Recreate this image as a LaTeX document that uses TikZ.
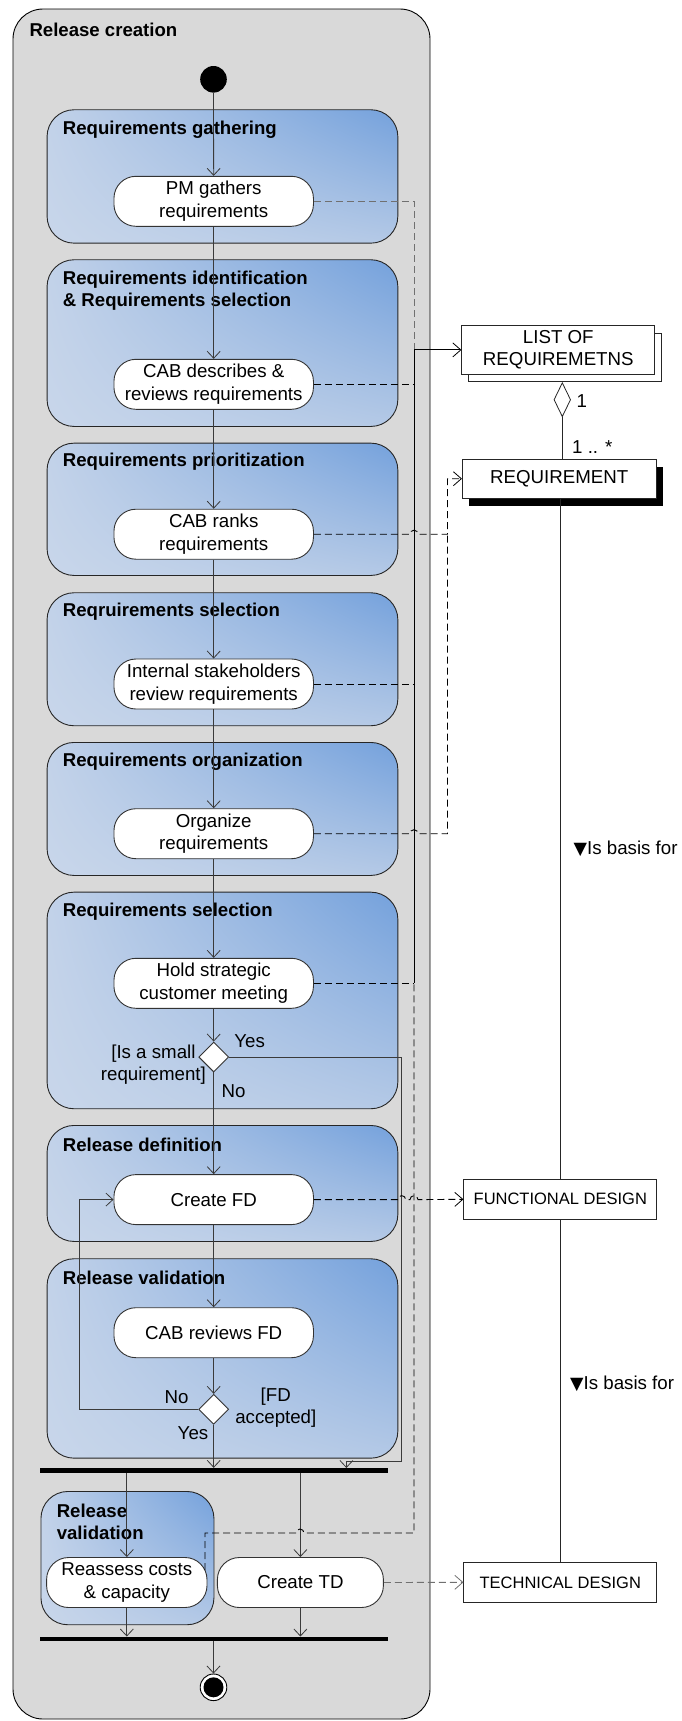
\documentclass[tikz,border=0pt]{standalone}
\usepackage{fontspec}
\setmainfont{Liberation Sans}
\newfontfamily\symbolfont{DejaVu Sans}
\usetikzlibrary{arrows.meta,shapes.geometric,shadings}

\definecolor{outerfill}{HTML}{D9D9D9}
\definecolor{lineclr}{HTML}{3A3A3A}
\definecolor{grpUL}{HTML}{C2D2E9}
\definecolor{grpUR}{HTML}{74A1DC}
\definecolor{grpLL}{HTML}{C8D6EA}
\definecolor{grpLR}{HTML}{B4C9E6}
\definecolor{dashgray}{HTML}{707070}

\tikzset{
  base/.style={font=\fontsize{18.7}{22.5}\selectfont},
  container/.style={draw=black, line width=0.9pt, rounded corners=30pt, fill=outerfill},
  group/.style={draw=black!85, line width=0.9pt, rounded corners=27pt,
    shading=bilinear interpolation, upper left=grpUL, upper right=grpUR,
    lower left=grpLL, lower right=grpLR, inner sep=0pt, anchor=north west},
  grouptitle/.style={font=\fontsize{18.6}{22.4}\selectfont\bfseries, anchor=west, align=left, inner sep=0pt},
  action/.style={base, draw=black!80, line width=0.9pt, fill=white, rounded corners=22pt,
    minimum width=199.5pt, minimum height=50pt, inner sep=0pt, align=center},
  decision/.style={diamond, draw=black!80, line width=0.9pt, fill=white, inner sep=0pt,
    minimum width=30pt, minimum height=30pt},
  syncbar/.style={fill=black, inner sep=0pt, minimum width=347.8pt, minimum height=4.5pt},
  objbox/.style={base, draw=black!85, line width=0.8pt, fill=white, inner sep=0pt,
    minimum width=193pt, align=center},
  label/.style={base, inner sep=0pt, align=center},
  flow/.style={draw=lineclr, line width=0.8pt, -{Straight Barb[length=7pt,width=13pt,line width=0.8pt]}},
  objflow/.style={draw=black, line width=0.9pt, dash pattern=on 7pt off 4pt},
  objarrow/.style={objflow, -{Straight Barb[length=8pt,width=14pt,line width=0.8pt]}},
  assoc/.style={draw=black!85, line width=0.8pt},
}

\begin{document}
\begin{tikzpicture}[x=1pt,y=-1pt]
\useasboundingbox (0,0) rectangle (681,1721);

% outer activity
\draw[container] (13,9) rectangle (430,1719);
\node[grouptitle, anchor=west] (maintitle) at (29.3,30) {Release creation};

% activity groups
\node[group, minimum width=350.8pt, minimum height=133.4pt] (g1) at (46.6,109.3) {};
\node[group, minimum width=350.8pt, minimum height=166.7pt] (g2) at (46.6,259.3) {};
\node[group, minimum width=350.8pt, minimum height=132.3pt] (g3) at (46.6,442.7) {};
\node[group, minimum width=350.8pt, minimum height=133pt]   (g4) at (46.6,592.3) {};
\node[group, minimum width=350.8pt, minimum height=133pt]   (g5) at (46.6,742) {};
\node[group, minimum width=350.8pt, minimum height=216.6pt] (g6) at (46.6,891.7) {};
\node[group, minimum width=350.8pt, minimum height=116pt]   (g7) at (46.6,1125) {};
\node[group, minimum width=350.8pt, minimum height=199.4pt] (g8) at (46.6,1258.3) {};
\node[group, minimum width=173pt,   minimum height=133.3pt] (g9) at (40.5,1491) {};

\node[grouptitle] (t1) at (62.7,130) {Requirements gathering};
\node[grouptitle] (t2) at (62.7,290.5) {Requirements identification\\\& Requirements selection};
\node[grouptitle] (t3) at (62.7,461.7) {Requirements prioritization};
\node[grouptitle] (t4) at (62.7,611.7) {Reqruirements selection};
\node[grouptitle] (t5) at (62.7,761.7) {Requirements organization};
\node[grouptitle] (t6) at (62.7,911.7) {Requirements selection};
\node[grouptitle] (t7) at (62.7,1145) {Release definition};
\node[grouptitle] (t8) at (62.7,1277.7) {Release validation};
\node[grouptitle] (t9) at (56.6,1522) {Release\\validation};

% control nodes
\node[circle, fill=black, minimum size=26.6pt, inner sep=0pt] (init) at (213.5,79.3) {};
\node[action] (pm)   at (213.7,201.3) {PM gathers\\requirements};
\node[action] (cabd) at (213.7,384.3) {CAB describes \&\\reviews requirements};
\node[action] (cabr) at (213.7,534.2) {CAB ranks\\requirements};
\node[action] (isr)  at (213.7,684) {Internal stakeholders\\review requirements};
\node[action] (org)  at (213.7,833.7) {Organize\\requirements};
\node[action] (hold) at (213.7,983.3) {Hold strategic\\customer meeting};
\node[decision] (d1) at (213.7,1057) {};
\node[action] (cfd)  at (213.7,1199.6) {Create FD};
\node[action] (cabf) at (213.7,1332.7) {CAB reviews FD};
\node[decision] (d2) at (213.7,1409.3) {};
\node[syncbar] (fork) at (213.9,1470.3) {};
\node[action, minimum width=160.4pt] (ra) at (126.8,1582.5) {Reassess costs\\\& capacity};
\node[action, minimum width=166pt]   (ctd) at (300.4,1582.5) {Create TD};
\node[syncbar] (join) at (213.9,1639) {};
\node[circle, draw=black, line width=0.9pt, fill=white, minimum size=26.6pt, inner sep=0pt] (final) at (213.5,1687.3) {};
\fill[black] (final.center) circle (10pt);

% guard and branch labels
\node[label] (yes1) at (249.7,1041) {Yes};
\node[label] (guard1) at (153.4,1064.5) {[Is a small\\requirement]};
\node[label] (no1) at (233.5,1090.7) {No};
\node[label] (no2) at (176.5,1396.7) {No};
\node[label] (guard2) at (275.8,1407.5) {[FD\\accepted]};
\node[label] (yes2) at (193,1433.3) {Yes};

% control flow
\draw[flow] (init) -- (pm);
\draw[flow] (pm) -- (cabd);
\draw[flow] (cabd) -- (cabr);
\draw[flow] (cabr) -- (isr);
\draw[flow] (isr) -- (org);
\draw[flow] (org) -- (hold);
\draw[flow] (hold) -- (d1);
\draw[flow] (d1) -- (cfd);
\draw[flow] (cfd) -- (cabf);
\draw[flow] (cabf) -- (d2);
\draw[flow] (d2.south) -- (d2.south |- fork.north);
\coordinate (yesdrop) at (401.7,1461);
\coordinate (yesin) at (346.4,1468);
\draw[flow] (d1.east) -| (yesdrop) -| (yesin);
\coordinate (noleft) at (79.7,1409.3);
\draw[flow] (d2.west) -- (noleft) |- (cfd.west);
\draw[flow] (ra.north |- fork.south) -- (ra.north);
\draw[flow] (ctd.north |- fork.south) -- (ctd.north);
\draw[flow] (ra.south) -- (ra.south |- join.north);
\draw[flow] (ctd.south) -- (ctd.south |- join.north);
\draw[flow] (join.south -| final.north) -- (final.north);

% object nodes
\node[objbox, minimum height=48.3pt] (listback) at (565.3,357.6) {};
\node[objbox, minimum height=48.3pt] (list) at (558.3,349.9) {LIST OF\\REQUIREMETNS};
\fill[black] (469.3,466.7) rectangle (662.7,506);
\node[objbox, minimum height=39.3pt, minimum width=193.7pt] (req) at (559.2,478.7) {REQUIREMENT};
\node[objbox, minimum height=40pt, font=\fontsize{16.5}{20}\selectfont] (fd) at (560.3,1199.3) {FUNCTIONAL DESIGN};
\node[objbox, minimum height=40pt, font=\fontsize{16.5}{20}\selectfont] (td) at (560.3,1582.3) {TECHNICAL DESIGN};

% associations between object nodes
\node[diamond, draw=black!85, line width=0.8pt, fill=white, inner sep=0pt,
      minimum width=16.7pt, minimum height=34pt] (agg) at (562.3,399.7) {};
\draw[assoc] (agg.south) -- (agg.south |- req.north);
\node[label] (m1) at (581.7,400.7) {1};
\node[label] (m2) at (592.3,446.7) {1 .. *};
\coordinate (reqlow) at (560.8,498.3);
\draw[assoc] (reqlow) -- (reqlow |- fd.north);
\draw[assoc] (reqlow |- fd.south) -- (reqlow |- td.north);
\node[base, anchor=west, inner sep=0pt] (basis1) at (573.5,848.3) {{\symbolfont\fontsize{17.5}{18}\selectfont ▼}Is basis for};
\node[base, anchor=west, inner sep=0pt] (basis2) at (570,1384) {{\symbolfont\fontsize{17.5}{18}\selectfont ▼}Is basis for};

% object flows into the requirements list
\coordinate (busTop) at (414,349.9);
\coordinate (busHold) at (414,983.3);
\draw[objflow, draw=dashgray] (pm.east) -| (busTop);
\draw[line width=0.9pt, black, -{Straight Barb[length=8pt,width=14pt,line width=0.8pt]}] (busTop) -- (list.west);
\draw[line width=0.9pt, black] (busTop) -- (busHold);
\draw[objflow] (cabd.east) -- (cabd.east -| busTop);
\draw[objflow] (isr.east) -- (isr.east -| busTop);
\draw[objflow] (hold.east) -- (busHold);
\coordinate (raUp) at (205,1570);
\coordinate (raTurn) at (205,1533);
\draw[objflow] (raUp) -- (raTurn) -- (296,1533)
  arc[start angle=180, end angle=0, radius=4pt] -- (414,1533) -- (busHold);

% object flows into a single requirement
\coordinate (reqBus) at (447.5,534.2);
\draw[objarrow] (cabr.east) -- (410,534.2)
  arc[start angle=180, end angle=0, radius=4pt] -- (reqBus) |- (req.west);
\draw[objflow] (org.east) -- (410,833.7)
  arc[start angle=180, end angle=0, radius=4pt] -- (447.5,833.7) -- (reqBus);

% object flows into the design documents
\draw[objarrow] (cfd.east) -- (397.7,1199.6)
  arc[start angle=180, end angle=0, radius=4pt] -- (410,1199.6)
  arc[start angle=180, end angle=0, radius=4pt] -- (fd.west);
\draw[objarrow, draw=dashgray] (ctd.east) -- (td.west);
\end{tikzpicture}
\end{document}
